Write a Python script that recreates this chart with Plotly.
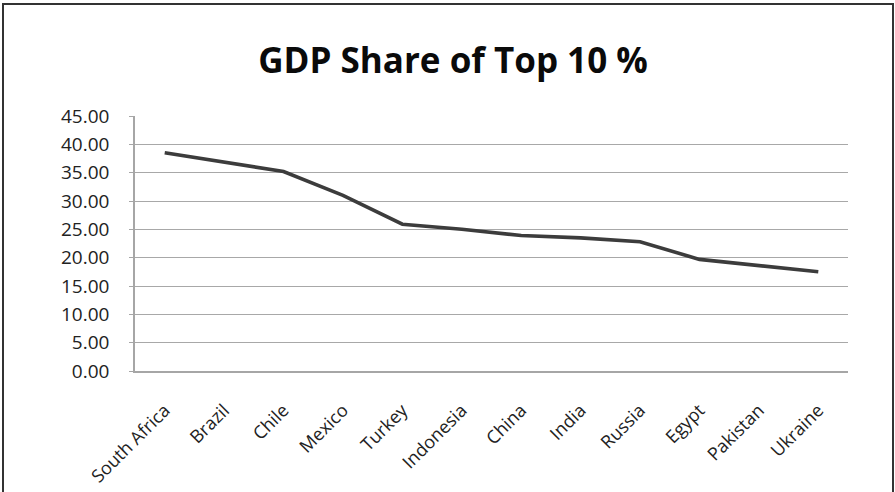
import plotly.graph_objects as go

countries = ["South Africa", "Brazil", "Chile", "Mexico", "Turkey", "Indonesia",
             "China", "India", "Russia", "Egypt", "Pakistan", "Ukraine"]
gdp_share_top10 = [38.5, 36.9, 35.2, 31.0, 25.9, 25.0, 23.9, 23.5, 22.8, 19.7, 18.6, 17.5]
y_ticks = [0, 5, 10, 15, 20, 25, 30, 35, 40, 45]
y_tick_labels = [f"{v:.2f}" for v in y_ticks]
title_text = "GDP Share of Top 10 %"

W, H = 895, 492
L, R, T, B = 135, 47, 116, 121
pw, ph = W - L - R, H - T - B

def px_x(x):
    return (x - L) / pw

def px_y(y):
    return (H - B - y) / ph

fig = go.Figure()
fig.add_trace(go.Scatter(
    x=countries, y=gdp_share_top10, mode="lines",
    line=dict(color="#3c3c3c", width=3.6),
    showlegend=False, hoverinfo="x+y",
))

fig.update_layout(
    width=W, height=H,
    margin=dict(l=L, r=R, t=T, b=B, pad=0, autoexpand=False),
    paper_bgcolor="white", plot_bgcolor="white",
    title=dict(text="<b>" + title_text + "</b>", x=(453) / W, xanchor="center",
               y=1 - 61 / H, yanchor="middle", automargin=False,
               font=dict(family="Open Sans", size=35, color="#0a0a0a")),
    font=dict(family="Open Sans", color="#222222"),
    xaxis=dict(
        type="category", range=[-0.5, len(countries) - 0.5],
        showgrid=False, showline=True, linecolor="#a6a6a6", linewidth=1.5,
        ticks="", tickangle=-45, ticklabelstandoff=20, automargin=False,
        tickfont=dict(size=18, family="Open Sans", color="#222222"),
        zeroline=False,
    ),
    yaxis=dict(
        range=[0, 45], tickvals=y_ticks, ticktext=y_tick_labels,
        showgrid=True, gridcolor="#a8a8a8", gridwidth=1.3,
        showline=True, linecolor="#a6a6a6", linewidth=1.5,
        ticks="outside", ticklen=4, tickcolor="#a6a6a6",
        ticklabelstandoff=16, automargin=False,
        tickfont=dict(size=19, family="Open Sans", color="#222222"),
        zeroline=False,
    ),
    shapes=[dict(
        type="rect", xref="paper", yref="paper",
        x0=px_x(3), x1=px_x(893), y0=px_y(500), y1=px_y(4),
        line=dict(color="#333333", width=2), fillcolor="rgba(0,0,0,0)",
        layer="below",
    )],
)

fig.write_html("out.html")
